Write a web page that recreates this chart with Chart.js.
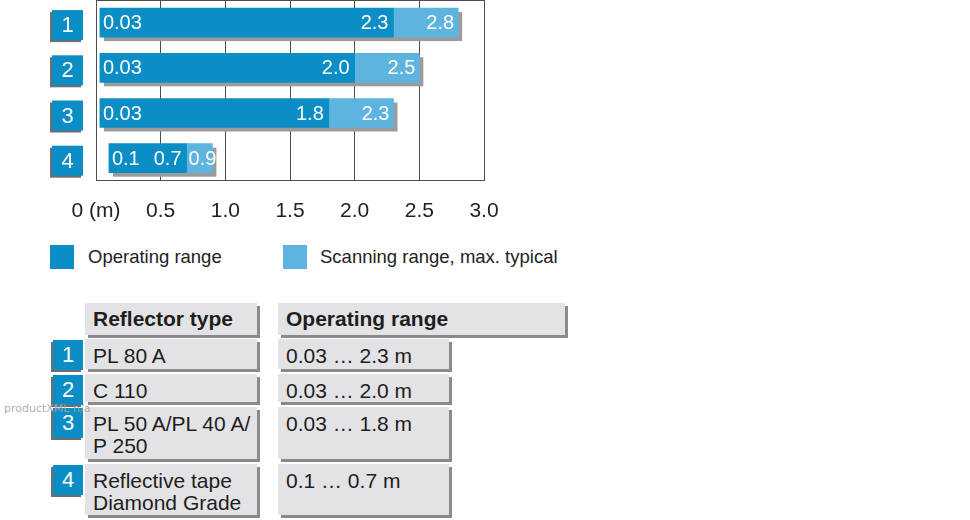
<!DOCTYPE html>
<html>
<head>
<meta charset="utf-8">
<script src="https://cdn.jsdelivr.net/npm/chart.js@4.4.1/dist/chart.umd.min.js"></script>
<style>
  body { margin: 0; background: #fff; font-family: "Liberation Sans", Arial, sans-serif; color: #222; }
  #wrap { position: relative; width: 970px; height: 520px; overflow: hidden; }
  #chartBox { position: absolute; left: 0; top: 0; width: 520px; height: 242px; }
  .legend-sq { position: absolute; top: 245px; width: 24px; height: 24px; }
  .legend-tx { position: absolute; top: 245px; height: 24px; line-height: 24px; font-size: 18.5px; white-space: nowrap; }
  .cell { position: absolute; background: #e3e3e5; box-shadow: 3px 3px 0 #8a8a8a; box-sizing: border-box;
          padding: 6px 0 0 8px; font-size: 21px; line-height: 22px; white-space: nowrap; color: #1e1e1e; }
  .cell.head { font-weight: bold; padding-top: 5px; }
  .num { position: absolute; left: 53px; width: 30px; height: 30px; color: #fff; font-size: 22px;
         line-height: 30px; text-align: center; box-shadow: -2px 2px 0 #6e6e6e; }
  .mark { position: absolute; left: 4px; top: 402px; font-family: "DejaVu Sans", sans-serif; font-size: 11px;
          color: rgba(165,165,165,0.9); z-index: 5; white-space: nowrap; }
</style>
</head>
<body>
<div id="wrap">
  <div id="chartBox"><canvas id="rangeChart"></canvas></div>
  <div id="legend"></div>
  <div id="table"></div>
  <div class="mark">productXML n/a</div>
</div>
<script>
// reflector rows
const categories = ['1', '2', '3', '4'];
const reflectorTypes = ['PL 80 A', 'C 110', 'PL 50 A/PL 40 A/\nP 250', 'Reflective tape\nDiamond Grade'];
// ranges in metres
const operatingStart = [0.03, 0.03, 0.03, 0.1];
const operatingEnd = [2.3, 2.0, 1.8, 0.7];
const scanningEnd = [2.8, 2.5, 2.3, 0.9];
const xTicks = [0, 0.5, 1.0, 1.5, 2.0, 2.5, 3.0];
const seriesNames = ['Operating range', 'Scanning range, max. typical'];

const DARK = '#0b8dc6';
const LIGHT = '#5db5df';
const GRID = '#4d4d4d';

const fmt = v => (v < 0.1 ? v.toFixed(2) : v.toFixed(1));

// gray drop shadow behind each full bar
const barShadow = {
  id: 'barShadow',
  beforeDatasetsDraw(chart) {
    const ctx = chart.ctx;
    const m0 = chart.getDatasetMeta(0), m1 = chart.getDatasetMeta(1);
    ctx.save();
    ctx.fillStyle = '#9b9b9b';
    m0.data.forEach((el, i) => {
      const right = m1.data[i].x;
      const top = el.y - el.height / 2;
      ctx.fillRect(el.base + 4, top + 4, right - el.base, el.height);
    });
    ctx.restore();
  }
};

// white value labels inside the bars
const barLabels = {
  id: 'barLabels',
  afterDatasetsDraw(chart) {
    const ctx = chart.ctx;
    ctx.save();
    ctx.fillStyle = '#fff';
    ctx.font = '20px "Liberation Sans", Arial, sans-serif';
    ctx.textBaseline = 'middle';
    chart.getDatasetMeta(0).data.forEach((el, i) => {
      ctx.textAlign = 'left';
      ctx.fillText(fmt(operatingStart[i]), el.base + 3, el.y + 1);
      ctx.textAlign = 'right';
      ctx.fillText(fmt(operatingEnd[i]), el.x - 5, el.y + 1);
    });
    chart.getDatasetMeta(1).data.forEach((el, i) => {
      const txt = fmt(scanningEnd[i]);
      if (ctx.measureText(txt).width + 8 > el.x - el.base) {
        ctx.textAlign = 'left';
        ctx.fillText(txt, el.base + 2, el.y + 1);
      } else {
        ctx.textAlign = 'right';
        ctx.fillText(txt, el.x - 4, el.y + 1);
      }
    });
    ctx.restore();
  }
};

// numbered blue badges instead of y tick labels
const rowBadges = {
  id: 'rowBadges',
  afterDraw(chart) {
    const ctx = chart.ctx;
    const y = chart.scales.y;
    ctx.save();
    categories.forEach((c, i) => {
      const cy = y.getPixelForValue(i) + 2.5;
      ctx.fillStyle = '#6e6e6e';
      ctx.fillRect(50, cy - 13, 31, 30);
      ctx.fillStyle = DARK;
      ctx.fillRect(52, cy - 15, 31, 30);
      ctx.fillStyle = '#fff';
      ctx.font = '22px "Liberation Sans", Arial, sans-serif';
      ctx.textAlign = 'center';
      ctx.textBaseline = 'middle';
      ctx.fillText(c, 67.5, cy + 1);
    });
    ctx.restore();
  }
};

new Chart(document.getElementById('rangeChart'), {
  type: 'bar',
  data: {
    labels: categories,
    datasets: [
      {
        label: seriesNames[0],
        data: categories.map((c, i) => [operatingStart[i], operatingEnd[i]]),
        backgroundColor: DARK,
        grouped: false,
        barThickness: 29,
        borderWidth: 0
      },
      {
        label: seriesNames[1],
        data: categories.map((c, i) => [operatingEnd[i], scanningEnd[i]]),
        backgroundColor: LIGHT,
        grouped: false,
        barThickness: 29,
        borderWidth: 0
      }
    ]
  },
  options: {
    indexAxis: 'y',
    responsive: true,
    maintainAspectRatio: false,
    animation: false,
    layout: { padding: { left: 96, right: 36, top: 0, bottom: 0 } },
    plugins: { legend: { display: false }, tooltip: { enabled: false } },
    scales: {
      x: {
        type: 'linear',
        min: 0,
        max: 3,
        afterBuildTicks: scale => { scale.ticks = xTicks.map(v => ({ value: v })); },
        grid: { color: GRID, lineWidth: 1, drawTicks: false },
        border: { display: true, color: GRID, width: 1 },
        ticks: {
          padding: 18,
          color: '#222',
          font: { size: 21, family: '"Liberation Sans", Arial, sans-serif' },
          callback: v => (v === 0 ? '0 (m)' : v.toFixed(1))
        }
      },
      xTop: {
        type: 'linear',
        position: 'top',
        min: 0,
        max: 3,
        grid: { display: false, drawTicks: false },
        border: { display: true, color: GRID, width: 1 },
        ticks: { display: false }
      },
      y: {
        type: 'category',
        display: false,
        offset: true
      }
    }
  },
  plugins: [barShadow, barLabels, rowBadges]
});

// legend
const legend = document.getElementById('legend');
[[50, 88, DARK], [283, 320, LIGHT]].forEach(([sx, tx, col], i) => {
  legend.insertAdjacentHTML('beforeend',
    `<div class="legend-sq" style="left:${sx}px;background:${col}"></div>` +
    `<div class="legend-tx" style="left:${tx}px">${seriesNames[i]}</div>`);
});

// reflector table
const table = document.getElementById('table');
const rowTop = [339, 374, 407, 464];
const rowH = [30, 28, 52, 51];
table.insertAdjacentHTML('beforeend',
  `<div class="cell head" style="left:85px;top:303px;width:172px;height:32px">Reflector type</div>` +
  `<div class="cell head" style="left:278px;top:303px;width:287px;height:32px">Operating range</div>`);
categories.forEach((c, i) => {
  table.insertAdjacentHTML('beforeend',
    `<div class="num" style="top:${rowTop[i] + 1}px;background:${DARK}">${c}</div>` +
    `<div class="cell" style="left:85px;top:${rowTop[i]}px;width:172px;height:${rowH[i]}px">${reflectorTypes[i].replace('\n', '<br>')}</div>` +
    `<div class="cell" style="left:278px;top:${rowTop[i]}px;width:171px;height:${rowH[i]}px">${fmt(operatingStart[i])} … ${fmt(operatingEnd[i])} m</div>`);
});
</script>
</body>
</html>
